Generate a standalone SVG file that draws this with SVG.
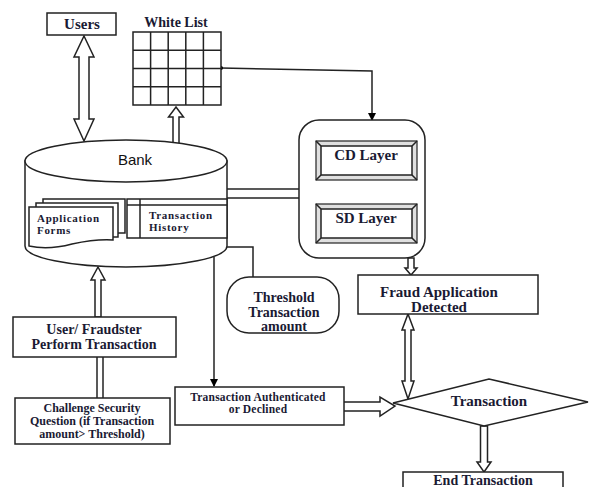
<svg xmlns="http://www.w3.org/2000/svg" width="589" height="487" viewBox="0 0 589 487">
<defs>
<marker id="ah" markerUnits="userSpaceOnUse" markerWidth="8" markerHeight="8" refX="7" refY="4" orient="auto">
<path d="M0,0 L8,4 L0,8 z" fill="#000"/>
</marker>
<marker id="dot" markerUnits="userSpaceOnUse" markerWidth="6" markerHeight="6" refX="3" refY="3">
<circle cx="3" cy="3" r="2" fill="#000"/>
</marker>
</defs>
<style>
.s{fill:#fff;stroke:#222;stroke-width:1.5}
.l{fill:none;stroke:#222;stroke-width:1.5}
.t{font-family:"Liberation Serif","Times New Roman",serif;font-weight:bold;fill:#1a1a33;text-anchor:middle}
.ts{font-family:"Liberation Serif","Times New Roman",serif;font-weight:bold;fill:#1a1a33}
.bev{fill:#e0e0e0;stroke:#222;stroke-width:1.2}
</style>
<rect width="589" height="487" fill="#fff"/>

<g id="connectors">
<polygon class="s" points="84,36 94,57 89,57 89,119 94,119 84,141 74,119 79,119 79,57 74,57"/>
<polygon class="s" points="176,107 183.5,117 179,117 179,144 173,144 173,117 168.5,117"/>
<polyline class="l" points="221,68 372,71 372,120" marker-start="url(#dot)" marker-end="url(#ah)"/>
<line class="l" x1="227" y1="189" x2="299" y2="189"/>
<line class="l" x1="227" y1="198" x2="299" y2="198"/>
<rect x="363" y="180" width="6" height="24" fill="#fff" stroke="#222" stroke-width="1.2"/>
<polyline class="l" points="227,247 253,247 253,277"/>
<line class="l" x1="214" y1="257" x2="214" y2="386" marker-end="url(#ah)"/>
<polygon class="s" points="98,267 105,280 101,280 101,317 95,317 95,280 91,280"/>
<line class="l" x1="97" y1="357" x2="97" y2="398"/>
<line class="l" x1="103" y1="357" x2="103" y2="398"/>
<polygon class="s" points="411,275 417,268 414,268 414,258 408,258 408,268 405,268"/>
<polygon class="s" points="408,314 414,330 411,330 411,381 414,381 408,399 402,381 405,381 405,330 402,330"/>
<polygon class="s" points="337,402 380,402 380,397 395,406 380,416 380,411 337,411"/>
<polygon class="s" points="484,472 491,462 487.5,462 487.5,426 480.5,426 480.5,462 477,462"/>
</g>

<g id="users">
<rect class="s" x="47" y="13" width="69" height="22"/>
<text class="t" x="82" y="29" font-size="15">Users</text>
</g>

<g id="whitelist">
<text class="t" x="176" y="27" font-size="14">White List</text>
<rect class="s" x="133" y="32" width="88" height="73"/>
<path class="l" d="M150.6,32V105M168.2,32V105M185.8,32V105M203.4,32V105M133,50.25H221M133,68.5H221M133,86.75H221"/>
</g>

<g id="bank">
<path class="s" d="M25,161 V246 A101,21 0 0 0 227,246 V161 Z"/>
<ellipse class="s" cx="126" cy="161" rx="101" ry="21"/>
<text x="135" y="165" font-family="'Liberation Sans',Arial,sans-serif" font-size="15" fill="#111" text-anchor="middle">Bank</text>
<rect class="s" x="43" y="199" width="82" height="34" stroke-width="1.2"/>
<rect class="s" x="36" y="203" width="82" height="34" stroke-width="1.2"/>
<path class="s" stroke-width="1.2" d="M29,207 H113 V240 C98,239 86,241 72,244 C57,248 42,249 29,246 Z"/>
<text class="ts" x="37" y="222" font-size="11" letter-spacing="0.7">Application</text>
<text class="ts" x="37" y="234" font-size="11" letter-spacing="0.7">Forms</text>
<rect class="s" x="127" y="199" width="100" height="39" stroke-width="1.2"/>
<line class="l" x1="140" y1="199" x2="140" y2="238" stroke-width="1.2"/>
<line class="l" x1="127" y1="205" x2="227" y2="205" stroke-width="1.2"/>
<text class="ts" x="149" y="219" font-size="11" letter-spacing="0.7">Transaction</text>
<text class="ts" x="149" y="231" font-size="11" letter-spacing="0.7">History</text>
</g>

<g id="layers">
<rect class="s" x="299" y="120" width="126" height="138" rx="20"/>
</g>
<g id="cdlayer">
<rect class="bev" x="316" y="141" width="101" height="39"/>
<rect class="s" x="321" y="146" width="91" height="29" stroke-width="1.2"/>
<path class="l" stroke-width="1" d="M316,141L321,146M417,141L412,146M316,180L321,175M417,180L412,175"/>
<text class="t" x="366" y="160" font-size="15">CD Layer</text>
</g>
<g id="sdlayer">
<rect class="bev" x="316" y="204" width="101" height="39"/>
<rect class="s" x="321" y="209" width="91" height="29" stroke-width="1.2"/>
<path class="l" stroke-width="1" d="M316,204L321,209M417,204L412,209M316,243L321,238M417,243L412,238"/>
<text class="t" x="366" y="223" font-size="15">SD Layer</text>
</g>

<g id="threshold">
<rect class="s" x="227" y="277" width="112" height="56" rx="22"/>
<text class="t" x="284" y="302" font-size="14">Threshold</text>
<text class="t" x="284" y="317" font-size="14">Transaction</text>
<text class="t" x="284" y="331" font-size="14">amount</text>
</g>

<g id="fraud">
<rect class="s" x="358" y="275" width="180" height="39"/>
<text class="t" x="439" y="297" font-size="15">Fraud Application</text>
<text class="t" x="439" y="312" font-size="15">Detected</text>
</g>

<g id="user">
<rect class="s" x="13" y="317" width="163" height="40"/>
<text class="t" x="94" y="334" font-size="14">User/ Fraudster</text>
<text class="t" x="94" y="349" font-size="14">Perform Transaction</text>
</g>

<g id="challenge">
<rect class="s" x="15" y="398" width="155" height="46"/>
<text class="t" x="92" y="412" font-size="12">Challenge Security</text>
<text class="t" x="92" y="425" font-size="12">Question (if Transaction</text>
<text class="t" x="92" y="438" font-size="12">amount&gt; Threshold)</text>
</g>

<g id="authenticated">
<rect class="s" x="175" y="387" width="169" height="38"/>
<text class="t" x="258" y="401" font-size="11.5" letter-spacing="0.2">Transaction Authenticated</text>
<text class="t" x="258" y="413" font-size="11.5" letter-spacing="0.2">or Declined</text>
</g>

<g id="transaction">
<polygon class="s" points="393,403 489,379 588,402 484,426"/>
<text class="t" x="489" y="406" font-size="15">Transaction</text>
</g>

<g id="end">
<rect class="s" x="403" y="472" width="160" height="20"/>
<text class="t" x="483" y="485" font-size="14">End Transaction</text>
</g>
</svg>
